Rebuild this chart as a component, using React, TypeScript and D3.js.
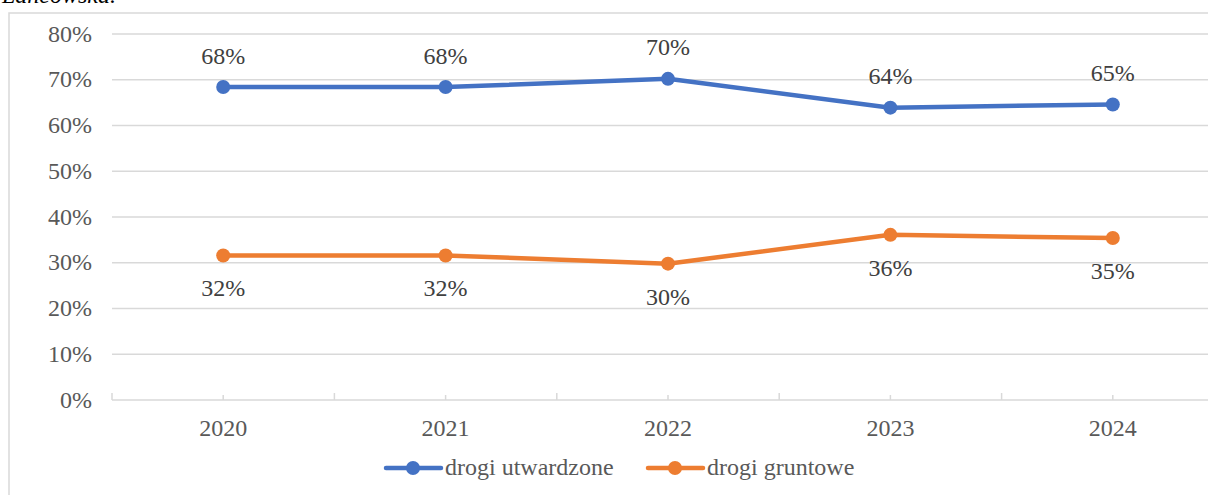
import { useEffect } from "react";
import * as d3 from "d3";

const years = ["2020", "2021", "2022", "2023", "2024"];
const utwardzone = [0.684, 0.684, 0.702, 0.639, 0.646];
const gruntowe = [0.316, 0.316, 0.298, 0.361, 0.354];
const yTicks = [0, 0.1, 0.2, 0.3, 0.4, 0.5, 0.6, 0.7, 0.8];

const W = 1208;
const H = 495;
const font = "Liberation Serif, Tinos, Times New Roman, serif";
const textColor = "#595959";
const gridColor = "#d9d9d9";
const blue = "#4472c4";
const orange = "#ed7d31";

const x = d3.scaleBand<string>().domain(years).range([112, 1224]);
const y = d3.scaleLinear().domain([0, 0.8]).range([400, 34]);
const pct = d3.format(".0%");

const series = [
  { name: "drogi utwardzone", values: utwardzone, color: blue, dy: -23.5, lx: 386 },
  { name: "drogi gruntowe", values: gruntowe, color: orange, dy: 41, lx: 648 },
];

export default function App() {
  useEffect(() => {
    document.body.style.margin = "0";
  }, []);

  const cx = (yr: string) => (x(yr) ?? 0) + x.bandwidth() / 2;
  const line = d3
    .line<number>()
    .x((_, i) => cx(years[i]))
    .y((d) => y(d));

  const boundaries = years.map((yr) => x(yr) ?? 0).concat([x.range()[1]]);

  return (
    <svg width={W} height={H} fontFamily={font} style={{ display: "block" }}>
      <rect width={W} height={H} fill="#fff" />
      <text x={2} y={3} fontSize={24} fontStyle="italic" fill="#000" fontFamily={font}>
        Łańcowska.
      </text>
      {/* chart frame */}
      <rect x={9} y={13} width={W + 20} height={H + 20} fill="none" stroke={gridColor} strokeWidth={1.5} />

      {/* gridlines + y labels */}
      {yTicks.map((t) => (
        <g key={t}>
          {t > 0 && (
            <line x1={112} x2={W} y1={y(t)} y2={y(t)} stroke={gridColor} strokeWidth={1.5} />
          )}
          <text x={92} y={y(t)} dy="0.32em" textAnchor="end" fontSize={24} fill={textColor} fontFamily={font}>
            {pct(t)}
          </text>
        </g>
      ))}

      {/* x axis */}
      <line x1={112} x2={W} y1={y(0)} y2={y(0)} stroke={gridColor} strokeWidth={1.5} />
      {boundaries.map((b, i) => (
        <line key={"b" + i} x1={b} x2={b} y1={y(0) - 7} y2={y(0)} stroke={gridColor} strokeWidth={1.5} />
      ))}
      {years.map((yr) => (
        <g key={yr}>
          <line x1={cx(yr)} x2={cx(yr)} y1={y(0) - 5} y2={y(0)} stroke={gridColor} strokeWidth={1.5} />
          <text x={cx(yr)} y={436} textAnchor="middle" fontSize={24} fill={textColor} fontFamily={font}>
            {yr}
          </text>
        </g>
      ))}

      {/* series */}
      {series.map((s) => (
        <g key={s.name}>
          <path d={line(s.values) ?? ""} fill="none" stroke={s.color} strokeWidth={4.5} strokeLinejoin="round" />
          {s.values.map((v, i) => (
            <g key={i}>
              <circle cx={cx(years[i])} cy={y(v)} r={7} fill={s.color} />
              <text x={cx(years[i])} y={y(v) + s.dy} textAnchor="middle" fontSize={24} fill="#404040" fontFamily={font}>
                {pct(v)}
              </text>
            </g>
          ))}
        </g>
      ))}

      {/* legend */}
      {series.map((s) => (
        <g key={"l" + s.name}>
          <line x1={s.lx} x2={s.lx + 55} y1={468} y2={468} stroke={s.color} strokeWidth={4.5} strokeLinecap="round" />
          <circle cx={s.lx + 27} cy={468} r={7} fill={s.color} />
          <text x={s.lx + 59} y={475} fontSize={24} fill={textColor} fontFamily={font}>
            {s.name}
          </text>
        </g>
      ))}
    </svg>
  );
}
